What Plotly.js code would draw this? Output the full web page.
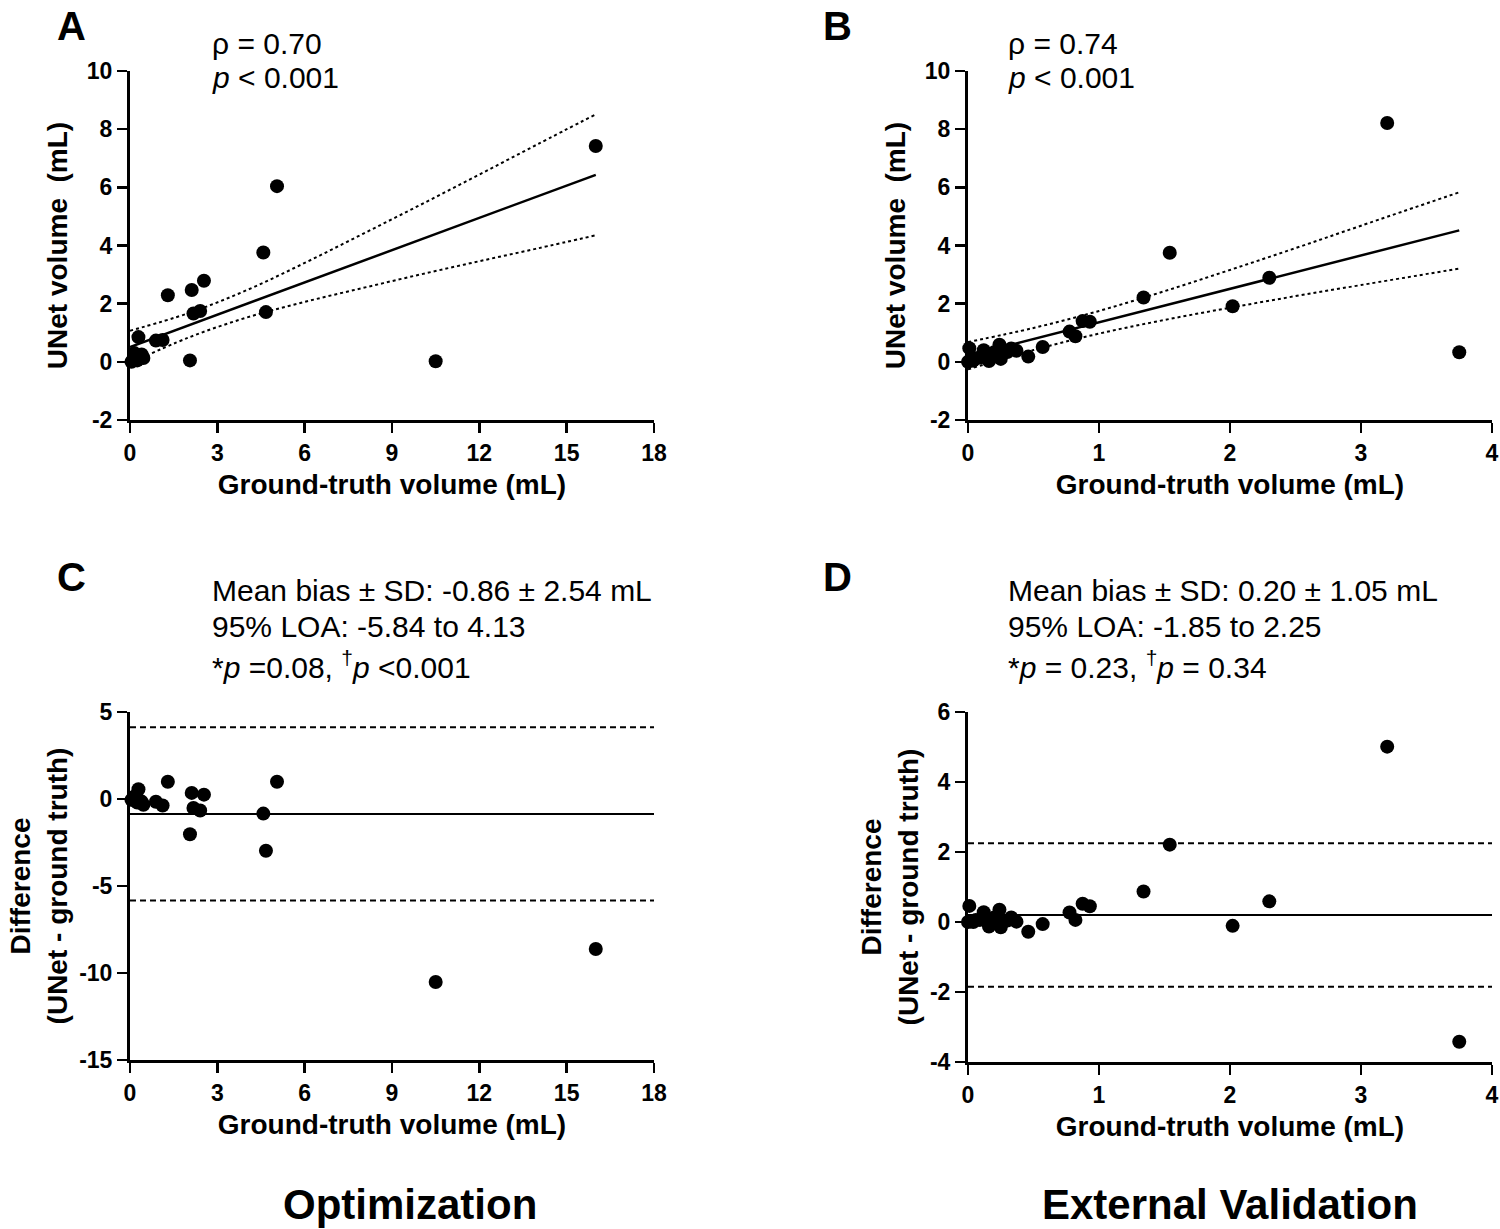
<!DOCTYPE html>
<html>
<head>
<meta charset="utf-8">
<script src="https://cdn.plot.ly/plotly-3.0.1.min.js"></script>
<style>html,body{margin:0;padding:0;background:#fff;}#chart{width:1500px;height:1229px;}</style>
</head>
<body>
<div id="chart"></div>
<script>
// ---------- Optimization cohort (panels A and C) ----------
const gtA   = [16.0, 10.5, 5.05, 4.58, 4.67, 2.54, 2.41, 2.18, 2.12, 2.06, 1.30, 1.12, 0.89, 0.29, 0.46, 0.34, 0.11, 0.05, 0.20, 0.15, 0.40, 0.25];
const unetA = [7.42, 0.02, 6.04, 3.76, 1.71, 2.79, 1.75, 1.66, 2.47, 0.05, 2.29, 0.75, 0.73, 0.85, 0.13, 0.19, 0.07, 0.00, 0.12, 0.30, 0.25, 0.05];
const diffA = [-8.62, -10.52, 0.99, -0.84, -2.97, 0.25, -0.66, -0.52, 0.35, -2.03, 0.99, -0.37, -0.16, 0.56, -0.33, -0.15, -0.04, -0.05, -0.08, 0.15, -0.15, -0.20];
// regression line and 95% confidence band
const fitXA   = [0, 2, 4, 6, 8, 10, 12, 14, 16];
const fitYA   = [0.51, 1.25, 1.99, 2.73, 3.47, 4.21, 4.95, 5.69, 6.43];
const upperA  = [1.07, 1.67, 2.46, 3.40, 4.40, 5.41, 6.44, 7.48, 8.51];
const lowerA  = [-0.05, 0.83, 1.52, 2.06, 2.54, 3.01, 3.46, 3.90, 4.35];
// Bland-Altman statistics (panel C)
const biasC = -0.86;
const loaC  = [-5.84, 4.13];
const xRangeC = [0, 18];

// ---------- External validation cohort (panels B and D) ----------
const gtB   = [3.20, 3.75, 1.54, 1.34, 2.30, 2.02, 0.93, 0.875, 0.775, 0.82, 0.57, 0.46, 0.01, 0.24, 0.12, 0.00, 0.04, 0.09, 0.16, 0.25, 0.30, 0.37, 0.20, 0.33, 0.14, 0.22, 0.06];
const unetB = [8.21, 0.33, 3.75, 2.21, 2.89, 1.91, 1.38, 1.40, 1.04, 0.88, 0.51, 0.18, 0.47, 0.59, 0.40, 0.00, 0.04, 0.15, 0.03, 0.10, 0.34, 0.38, 0.33, 0.46, 0.20, 0.28, 0.12];
const diffB = [5.01, -3.42, 2.21, 0.87, 0.59, -0.11, 0.45, 0.52, 0.27, 0.06, -0.06, -0.28, 0.46, 0.35, 0.28, 0.00, 0.00, 0.06, -0.13, -0.15, 0.04, 0.01, 0.13, 0.13, 0.06, 0.06, 0.06];
const fitXB   = [0, 0.5, 1, 1.5, 2, 2.5, 3, 3.75];
const fitYB   = [0.21, 0.785, 1.36, 1.935, 2.51, 3.085, 3.66, 4.52];
const upperB  = [0.68, 1.165, 1.75, 2.43, 3.16, 3.91, 4.68, 5.83];
const lowerB  = [-0.26, 0.405, 0.97, 1.44, 1.86, 2.26, 2.64, 3.21];
const biasD = 0.20;
const loaD  = [-1.85, 2.25];
const xRangeD = [0, 4];

// ---------- tick labels ----------
const ticksX_A = [0, 3, 6, 9, 12, 15, 18];
const ticksX_B = [0, 1, 2, 3, 4];
const ticksY_AB = [-2, 0, 2, 4, 6, 8, 10];
const ticksY_C = [-15, -10, -5, 0, 5];
const ticksY_D = [-4, -2, 0, 2, 4, 6];
const lab = v => String(v); // hyphen-minus labels as in the original

const FONT = 'Liberation Sans, Arial, sans-serif';
const W = 1500, H = 1229;
const px = x => x / W;
const py = y => 1 - y / H;

const dot = (x, y, xa, ya) => ({
  type: 'scatter', mode: 'markers', x: x, y: y, xaxis: xa, yaxis: ya,
  marker: {color: '#000', size: 14}, cliponaxis: false, hoverinfo: 'skip'
});
const ln = (x, y, xa, ya, dash, w, shape) => ({
  type: 'scatter', mode: 'lines', x: x, y: y, xaxis: xa, yaxis: ya,
  line: {color: '#000', width: w, dash: dash, shape: shape || 'linear'}, cliponaxis: false, hoverinfo: 'skip'
});

const traces = [
  ln(fitXA, upperA, 'x', 'y', 'dot', 2, 'spline'),
  ln(fitXA, lowerA, 'x', 'y', 'dot', 2, 'spline'),
  ln(fitXA, fitYA, 'x', 'y', 'solid', 2.5),
  dot(gtA, unetA, 'x', 'y'),

  ln(fitXB, upperB, 'x2', 'y2', 'dot', 2, 'spline'),
  ln(fitXB, lowerB, 'x2', 'y2', 'dot', 2, 'spline'),
  ln(fitXB, fitYB, 'x2', 'y2', 'solid', 2.5),
  dot(gtB, unetB, 'x2', 'y2'),

  ln(xRangeC, [biasC, biasC], 'x3', 'y3', 'solid', 2),
  ln(xRangeC, [loaC[0], loaC[0]], 'x3', 'y3', '6px,4px', 2),
  ln(xRangeC, [loaC[1], loaC[1]], 'x3', 'y3', '6px,4px', 2),
  dot(gtA, diffA, 'x3', 'y3'),

  ln(xRangeD, [biasD, biasD], 'x4', 'y4', 'solid', 2),
  ln(xRangeD, [loaD[0], loaD[0]], 'x4', 'y4', '6px,4px', 2),
  ln(xRangeD, [loaD[1], loaD[1]], 'x4', 'y4', '6px,4px', 2),
  dot(gtB, diffB, 'x4', 'y4')
];

const tickFont = {family: FONT, size: 23, color: '#000', weight: 700};
const titleFont = {family: FONT, size: 28, color: '#000', weight: 700};
const axisBase = {
  showline: true, linecolor: '#000', linewidth: 3, showgrid: false, zeroline: false,
  ticks: 'outside', ticklen: 10, tickwidth: 2.5, tickcolor: '#000',
  tickfont: tickFont, tickmode: 'array', fixedrange: true
};
const xAx = (dom, range, tv, anchor) => Object.assign({}, axisBase, {
  domain: dom, range: range, tickvals: tv, ticktext: tv.map(lab), anchor: anchor,
  title: {text: 'Ground-truth volume (mL)', font: titleFont, standoff: 10}
});
const yAx = (dom, range, tv, anchor, title, standoff) => Object.assign({}, axisBase, {
  domain: dom, range: range, tickvals: tv, ticktext: tv.map(lab), anchor: anchor,
  title: {text: title, font: titleFont, standoff: standoff}
});

const ann = (x, y, text, size, opts) => Object.assign({
  xref: 'paper', yref: 'paper', x: px(x), y: py(y), text: text, showarrow: false,
  xanchor: 'left', yanchor: 'middle', font: {family: FONT, size: size, color: '#000'}
}, opts || {});
const bold = (x, y, text, size, xa) => ann(x, y, text, size, {xanchor: xa || 'center', font: {family: FONT, size: size, color: '#000', weight: 700}});

const layout = {
  width: W, height: H, margin: {l: 0, r: 0, t: 0, b: 0},
  paper_bgcolor: '#fff', plot_bgcolor: 'rgba(0,0,0,0)', showlegend: false,
  font: {family: FONT, color: '#000'},
  xaxis:  xAx([px(130), px(654)], [0, 18], ticksX_A, 'y'),
  yaxis:  yAx([py(420), py(71)], [-2, 10], ticksY_AB, 'x', 'UNet volume  (mL)', 12),
  xaxis2: xAx([px(968), px(1492)], [0, 4], ticksX_B, 'y2'),
  yaxis2: yAx([py(420), py(71)], [-2, 10], ticksY_AB, 'x2', 'UNet volume  (mL)', 12),
  xaxis3: xAx([px(130), px(654)], [0, 18], ticksX_A, 'y3'),
  yaxis3: yAx([py(1060), py(712)], [-15, 5], ticksY_C, 'x3', 'Difference<br>(UNet - ground truth)', 4),
  xaxis4: xAx([px(968), px(1492)], [0, 4], ticksX_B, 'y4'),
  yaxis4: yAx([py(1062), py(712)], [-4, 6], ticksY_D, 'x4', 'Difference<br>(UNet - ground truth)', 4),
  annotations: [
    bold(55, 26, 'A', 40, 'left'),
    bold(821, 26, 'B', 40, 'left'),
    bold(55, 577, 'C', 40, 'left'),
    bold(821, 577, 'D', 40, 'left'),
    ann(210, 43, 'ρ = 0.70', 30),
    ann(210, 77, '<i>p</i> < 0.001', 30),
    ann(1006, 43, 'ρ = 0.74', 30),
    ann(1006, 77, '<i>p</i> < 0.001', 30),
    ann(210, 590, 'Mean bias ± SD: -0.86 ± 2.54 mL', 30),
    ann(210, 626, '95% LOA: -5.84 to 4.13', 30),
    ann(210, 665, '*<i>p</i> =0.08, <sup>†</sup><i>p</i> <0.001', 30),
    ann(1006, 590, 'Mean bias ± SD: 0.20 ± 1.05 mL', 30),
    ann(1006, 626, '95% LOA: -1.85 to 2.25', 30),
    ann(1006, 665, '*<i>p</i> = 0.23, <sup>†</sup><i>p</i> = 0.34', 30),
    bold(410, 1204, 'Optimization', 42),
    bold(1230, 1204, 'External Validation', 42)
  ]
};

Plotly.newPlot('chart', traces, layout, {staticPlot: true, displayModeBar: false});
</script>
</body>
</html>
